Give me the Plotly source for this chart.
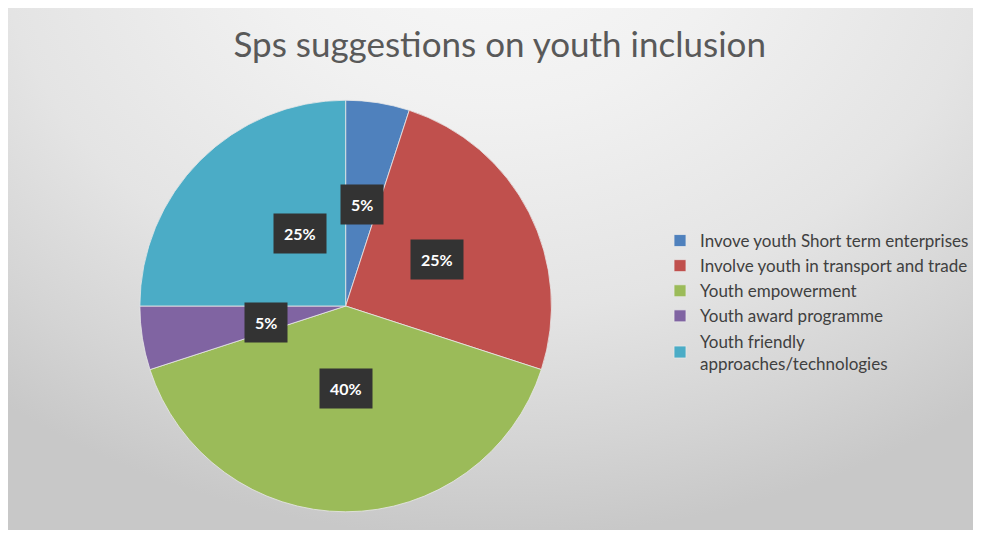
import math
import plotly.graph_objects as go

labels = ["Invove youth Short term enterprises",
          "Involve youth in transport and trade",
          "Youth empowerment",
          "Youth award programme",
          "Youth friendly<br>approaches/technologies"]
values = [5, 25, 40, 5, 25]
colors = ["#4f81bd", "#c0504d", "#9bbb59", "#8064a2", "#4bacc6"]
title_text = "Sps suggestions on youth inclusion"

# figure sits inside the page's default 8px body margin
W, H = 966, 522
cx_px, cy_px, R = 338, 298, 206

fig = go.Figure()

# background panel with radial gradient (light near top centre)
fig.add_trace(go.Scatter(
    x=[-300, 1270, 1270, -300, -300], y=[-700, -700, 530, 530, -700],
    mode="lines", line=dict(width=0), fill="toself",
    fillgradient=dict(type="radial",
                      colorscale=[[0, "#f8f8f8"], [0.3, "#f1f1f1"], [0.63, "#e4e4e4"],
                                  [0.85, "#d4d4d4"], [1, "#c8c8c8"]]),
    hoverinfo="skip", showlegend=False))

dom_x = [(cx_px - R) / W, (cx_px + R) / W]
dom_y = [(H - (cy_px + R)) / H, (H - (cy_px - R)) / H]

fig.add_trace(go.Pie(
    labels=labels, values=values, sort=False, direction="clockwise", rotation=0,
    marker=dict(colors=colors, line=dict(color="#e8e8e8", width=0.8)),
    textinfo="none", hoverinfo="label+percent",
    domain=dict(x=dom_x, y=dom_y)))

total = sum(values)
cum = 0
for v in values:
    mid = (cum + v / 2) / total * 2 * math.pi
    cum += v
    px = cx_px + 0.5 * R * math.sin(mid)
    py = cy_px - 0.5 * R * math.cos(mid)
    fig.add_annotation(
        x=px / W, y=(H - py) / H, xref="paper", yref="paper",
        text=f"<b>{round(v / total * 100)}%</b>", showarrow=False,
        font=dict(family="Lato", size=16, color="white"),
        bgcolor="#333333", borderpad=10)

fig.update_layout(
    width=W, height=H,
    margin=dict(l=0, r=0, t=0, b=0),
    paper_bgcolor="white", plot_bgcolor="rgba(0,0,0,0)",
    xaxis=dict(range=[0, W], visible=False, domain=[0, 1], fixedrange=True),
    yaxis=dict(range=[H, 0], visible=False, domain=[0, 1], fixedrange=True),
    title=dict(text=title_text, x=0.509, xanchor="center", y=1 - 37 / H, yanchor="middle",
               font=dict(family="Lato", size=35, color="#595959")),
    legend=dict(x=0.6756, y=(H - 215) / H, xanchor="left", yanchor="top",
                bgcolor="rgba(0,0,0,0)",
                font=dict(family="Lato", size=17, color="#404040"),
                itemwidth=30),
    showlegend=True,
)

fig.write_html("out.html")
